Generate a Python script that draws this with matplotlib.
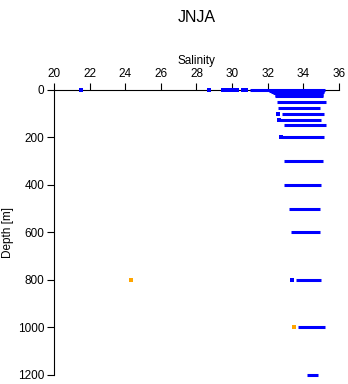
import matplotlib
matplotlib.use("Agg")
import matplotlib.pyplot as plt

# surface scatter (salinity, depth)
surf_sal = [21.5, 28.7, 29.5, 29.7, 29.9, 30.05, 30.3, 30.6, 30.8]
surf_dep = [0, 0, 0, 0, 2, 0, 0, 2, 0]

# depth levels with blue salinity ranges
lev_depth = [0, 5, 10, 15, 20, 25, 50, 75, 100, 125, 150, 200, 300, 400, 500, 600, 800, 1000, 1200]
lev_smin = [31.0, 32.1, 32.2, 32.3, 32.4, 32.4, 32.5, 32.6, 32.8, 32.7, 32.9, 32.8, 32.9, 32.9, 33.2, 33.3, 33.6, 33.7, 34.2]
lev_smax = [35.2, 35.15, 35.15, 35.1, 35.1, 35.1, 35.3, 34.95, 35.15, 35.0, 35.3, 35.15, 35.1, 35.0, 34.95, 34.95, 35.0, 35.2, 34.8]

# single outlying blue points
odd_sal = [32.6, 32.64, 32.75, 33.35]
odd_dep = [100, 125, 200, 800]

# orange (flagged) points
flag_sal = [24.35, 33.45]
flag_dep = [800, 1000]

BLUE = "#0000ff"
ORANGE = "#ffa500"

plt.rcParams["font.family"] = ["Liberation Sans", "DejaVu Sans"]

fig = plt.figure(figsize=(3.48, 3.84), dpi=100)
ax = fig.add_axes([0.155, 0.024, 0.819, 0.742])

ax.hlines(lev_depth, lev_smin, lev_smax, color=BLUE, lw=2.2, capstyle="butt",
          clip_on=False, zorder=3)
ax.scatter(surf_sal, surf_dep, marker="s", s=7, color=BLUE, lw=0, clip_on=False, zorder=3)
ax.scatter(odd_sal, odd_dep, marker="s", s=7, color=BLUE, lw=0, clip_on=False, zorder=3)
ax.scatter(flag_sal, flag_dep, marker="s", s=8, color=ORANGE, lw=0, clip_on=False, zorder=4)

ax.set_xlim(20, 36)
ax.set_ylim(1200, 0)
ax.set_xticks(range(20, 37, 2))
ax.set_yticks(range(0, 1201, 200))
ax.xaxis.tick_top()
ax.xaxis.set_label_position("top")
ax.set_xlabel("Salinity", fontsize=8.5, labelpad=3)
ax.set_ylabel("Depth [m]", fontsize=8.5, labelpad=3)
ax.tick_params(labelsize=8.5, length=5, width=0.8, direction="out", pad=2)

for s in ("right", "bottom"):
    ax.spines[s].set_visible(False)
for s in ("top", "left"):
    ax.spines[s].set_linewidth(0.8)

fig.text(0.565, 0.975, "JNJA", ha="center", va="top", fontsize=11.5)

fig.savefig("out.png", dpi=100)
